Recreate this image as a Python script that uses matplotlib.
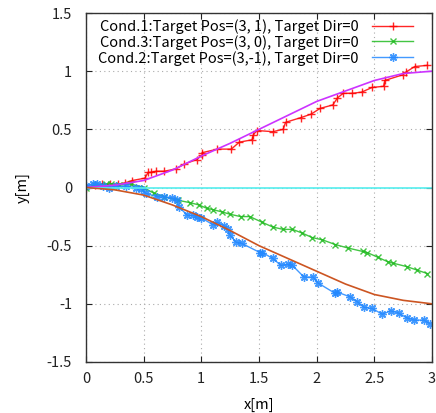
import matplotlib
matplotlib.use("Agg")
import matplotlib.pyplot as plt

plt.rcParams['font.family'] = ['Noto Sans CJK JP', 'DejaVu Sans']

# Cond.1 measured (red +)
x1 = [0, 0.08, 0.14, 0.21, 0.28, 0.34, 0.40, 0.51, 0.54, 0.56, 0.61, 0.68, 0.78, 0.85, 0.96, 1.01, 1.01,
      1.14, 1.26, 1.33, 1.44, 1.45, 1.48, 1.62, 1.71, 1.73, 1.86, 1.95, 2.03, 2.14, 2.18, 2.23, 2.31, 2.39,
      2.48, 2.58, 2.59, 2.75, 2.77, 2.85, 2.96]
y1 = [0.00, 0.02, 0.03, 0.03, 0.03, 0.04, 0.06, 0.08, 0.13, 0.13, 0.14, 0.14, 0.16, 0.20, 0.24, 0.28, 0.30,
      0.33, 0.33, 0.39, 0.41, 0.45, 0.49, 0.48, 0.50, 0.56, 0.60, 0.63, 0.68, 0.71, 0.77, 0.81, 0.81, 0.82,
      0.86, 0.87, 0.92, 0.97, 0.99, 1.04, 1.05]

# Cond.3 measured (green x)
x3 = [0, 0.08, 0.17, 0.22, 0.29, 0.39, 0.50, 0.59, 0.68, 0.80, 0.90, 0.98, 1.05, 1.10, 1.18, 1.25, 1.34,
      1.42, 1.53, 1.62, 1.71, 1.79, 1.87, 1.96, 2.05, 2.16, 2.27, 2.40, 2.44, 2.53, 2.62, 2.66, 2.78, 2.87, 2.96]
y3 = [0.00, 0.02, 0.03, 0.03, 0.02, 0.03, 0.00, -0.05, -0.08, -0.11, -0.13, -0.15, -0.18, -0.19, -0.21,
      -0.23, -0.25, -0.25, -0.30, -0.34, -0.36, -0.36, -0.39, -0.43, -0.45, -0.49, -0.52, -0.55, -0.56,
      -0.60, -0.64, -0.65, -0.68, -0.71, -0.74]

# Cond.2 measured (blue *)
x2 = [0, 0.06, 0.10, 0.15, 0.20, 0.26, 0.35, 0.43, 0.48, 0.52, 0.62, 0.68, 0.75, 0.79, 0.81, 0.88, 0.93,
      0.96, 1.00, 1.10, 1.14, 1.20, 1.23, 1.25, 1.30, 1.35, 1.51, 1.53, 1.62, 1.69, 1.75, 1.79, 1.89, 1.97,
      2.01, 2.16, 2.18, 2.29, 2.35, 2.41, 2.48, 2.57, 2.64, 2.71, 2.78, 2.84, 2.93, 2.98]
y2 = [0.01, 0.03, 0.03, 0.01, 0.00, 0.01, 0.01, 0.00, -0.01, -0.05, -0.08, -0.08, -0.09, -0.11, -0.17,
      -0.24, -0.24, -0.25, -0.26, -0.32, -0.30, -0.33, -0.36, -0.41, -0.47, -0.48, -0.56, -0.56, -0.61,
      -0.67, -0.66, -0.67, -0.77, -0.77, -0.82, -0.91, -0.90, -0.94, -0.98, -1.03, -1.04, -1.09, -1.06,
      -1.08, -1.12, -1.14, -1.14, -1.17]

# Target paths
xr = [0, 0.25, 0.5, 0.75, 1.0, 1.25, 1.5, 1.75, 2.0, 2.25, 2.5, 2.75, 3.0]
yr_up = [0, 0.02, 0.06, 0.15, 0.27, 0.38, 0.50, 0.62, 0.74, 0.83, 0.92, 0.98, 1.0]
yr_dn = [0, -0.02, -0.065, -0.15, -0.25, -0.37, -0.50, -0.61, -0.72, -0.83, -0.92, -0.97, -1.0]
yr_0 = [0] * len(xr)

fig = plt.figure(figsize=(4.36, 4.13), dpi=100)
ax = fig.add_axes([0.197, 0.1235, 0.794, 0.845])

ax.plot(x1, y1, color='#ff0000', lw=1.0, marker='+', ms=6, mew=1.0, alpha=0.85,
        label='Cond.1:Target Pos=(3, 1), Target Dir=0')
ax.plot(x3, y3, color='#22bb22', lw=1.0, marker='x', ms=4.5, mew=1.0, alpha=0.85,
        label='Cond.3:Target Pos=(3, 0), Target Dir=0')
ax.plot(x2, y2, color='#2288ff', lw=1.0, marker=(8, 2, 0), ms=6, mew=1.0, alpha=0.85,
        label='Cond.2:Target Pos=(3,-1), Target Dir=0')
ax.plot(xr, yr_up, color='#cc33ff', lw=1.2)
ax.plot(xr, yr_0, color='#55eeee', lw=1.2)
ax.plot(xr, yr_dn, color='#cc5522', lw=1.2)

ax.set_xlim(0, 3)
ax.set_ylim(-1.5, 1.5)
ax.set_xticks([0, 0.5, 1, 1.5, 2, 2.5, 3])
ax.set_xticklabels(['0', '0.5', '1', '1.5', '2', '2.5', '3'])
ax.set_yticks([-1.5, -1, -0.5, 0, 0.5, 1, 1.5])
ax.set_yticklabels(['-1.5', '-1', '-0.5', '0', '0.5', '1', '1.5'])
ax.tick_params(direction='in', top=True, right=True, labelsize=10.5, length=4, colors='#222222')
ax.tick_params(axis='x', pad=7)
ax.tick_params(axis='y', pad=10)
ax.grid(True, linestyle=(0, (1, 3)), color='#aaaaaa', lw=0.8)
for s in ax.spines.values():
    s.set_color('#333333')
    s.set_linewidth(1.0)

ax.set_xlabel('x[m]', fontsize=10.5, labelpad=9)
ax.set_ylabel('y[m]', fontsize=10.5, labelpad=12)

leg = ax.legend(loc='upper right', bbox_to_anchor=(0.97, 1.008), frameon=False, markerfirst=False,
                fontsize=10.5, handlelength=2.8, labelspacing=0.08, borderaxespad=0.2,
                handletextpad=0.9)

fig.savefig('out.png', dpi=100)
